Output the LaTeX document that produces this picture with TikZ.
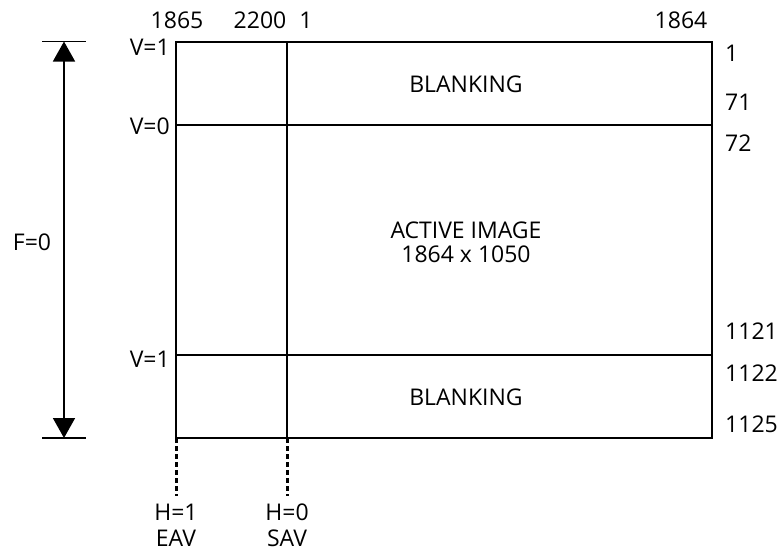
\documentclass[tikz,border=0pt]{standalone}
\usepackage{fontspec}
\setmainfont{Open Sans}
\usetikzlibrary{arrows.meta}
\begin{document}
\begin{tikzpicture}[x=1pt,y=-1pt,
  lbl/.style={font=\fontsize{23}{26}\selectfont, inner sep=0pt},
  frame/.style={line width=2pt},
  grid/.style={line width=1.6pt},
  dotline/.style={line width=3pt, dash pattern=on 5pt off 3pt},
  dimarrow/.style={line width=1.6pt, {Triangle[width=22pt,length=20pt]}-{Triangle[width=22pt,length=20pt]}}]
\useasboundingbox (0,0) rectangle (783,550);
% frame corners
\coordinate (tl) at (176,41.5);
\coordinate (tr) at (712,41.5);
\coordinate (bl) at (176,438);
\coordinate (br) at (712,438);
\coordinate (vt) at (287,41.5);
\coordinate (vb) at (287,438);
\coordinate (h1l) at (176,125);
\coordinate (h1r) at (712,125);
\coordinate (h2l) at (176,355);
\coordinate (h2r) at (712,355);
\draw[frame] (tl) rectangle (br);
\draw[grid] (vt) -- (vb);
\draw[grid] (h1l) -- (h1r);
\draw[grid] (h2l) -- (h2r);
% dotted extensions
\coordinate (d1) at (176,496);
\coordinate (d2) at (287,496);
\draw[dotline] (bl) -- (d1);
\draw[dotline] (vb) -- (d2);
% dimension arrow
\coordinate (tk1l) at (42,41.5);
\coordinate (tk1r) at (86,41.5);
\coordinate (tk2l) at (42,438);
\coordinate (tk2r) at (86,438);
\coordinate (at) at (64,41.5);
\coordinate (ab) at (64,438);
\draw[grid] (tk1l) -- (tk1r);
\draw[grid] (tk2l) -- (tk2r);
\draw[dimarrow] (at) -- (ab);
\node[lbl] (f0) at (32,242) {F=0};
% top labels
\node[lbl] (c1865) at (177,20) {1865};
\node[lbl] (c2200) at (260,20) {2200};
\node[lbl] (c1) at (306,20) {1};
\node[lbl] (c1864) at (681,20) {1864};
% left labels
\node[lbl, anchor=east] (v1a) at (170,47) {V=1};
\node[lbl, anchor=east] (v0) at (170,126) {V=0};
\node[lbl, anchor=east] (v1b) at (170,359) {V=1};
% right labels
\node[lbl, anchor=west] (r1) at (725,53) {1};
\node[lbl, anchor=west] (r71) at (725,102) {71};
\node[lbl, anchor=west] (r72) at (725,143) {72};
\node[lbl, anchor=west] (r1121) at (725,331) {1121};
\node[lbl, anchor=west] (r1122) at (725,373) {1122};
\node[lbl, anchor=west] (r1125) at (725,424) {1125};
% area labels
\node[lbl] (blank1) at (466,84) {BLANKING};
\node[lbl] (act1) at (466,230) {ACTIVE IMAGE};
\node[lbl] (act2) at (466,254) {1864 x 1050};
\node[lbl] (blank2) at (466,397) {BLANKING};
% bottom labels
\node[lbl] (h1) at (176,512) {H=1};
\node[lbl] (eav) at (176,538) {EAV};
\node[lbl] (h0) at (287,512) {H=0};
\node[lbl] (sav) at (287,538) {SAV};
\end{tikzpicture}
\end{document}
